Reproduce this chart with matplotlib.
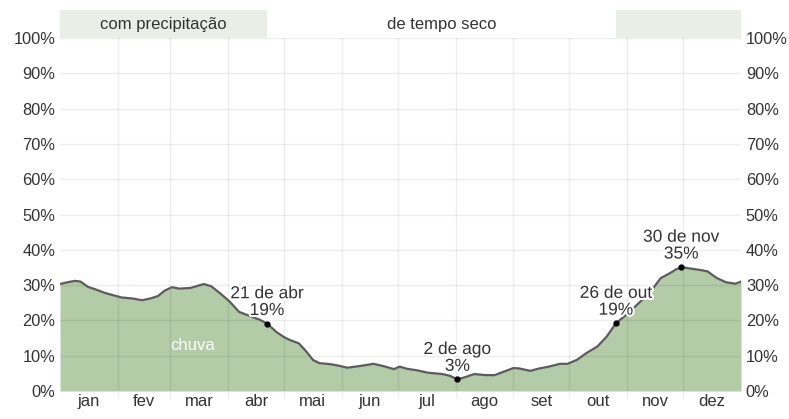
import matplotlib
matplotlib.use("Agg")
import matplotlib.pyplot as plt
import matplotlib.patheffects as pe
import numpy as np

plt.rcParams['font.family'] = ['Liberation Sans', 'DejaVu Sans']

# daily chance of precipitation (day of year, %)
days = [0, 4, 8, 11, 15, 20, 24, 28, 33, 39, 44, 49, 52.5, 56, 60, 64, 70, 77, 81,
        86, 91, 96, 102, 107, 111, 116, 120, 123, 128, 132, 135.6, 139, 145, 150,
        154, 161, 168, 173, 179, 182, 186, 192, 197, 205, 209, 213, 217, 222, 228,
        233, 238, 243, 246, 252, 257, 262, 268, 272, 277, 282, 288, 293, 298, 304,
        312, 318, 322, 327, 330, 333, 339, 343, 347, 352, 357, 362, 365]
chuva = [30.3, 30.8, 31.2, 31.0, 29.5, 28.6, 27.8, 27.2, 26.5, 26.2, 25.7, 26.3, 26.9,
         28.4, 29.4, 29.0, 29.2, 30.3, 29.7, 27.6, 25.3, 22.4, 21.2, 20.2, 19.1, 16.7,
         15.3, 14.5, 13.5, 11.2, 8.8, 7.9, 7.6, 7.1, 6.6, 7.1, 7.7, 7.1, 6.2, 6.9, 6.3,
         5.8, 5.2, 4.8, 4.3, 3.3, 3.9, 4.8, 4.5, 4.5, 5.5, 6.5, 6.4, 5.7, 6.4, 6.9, 7.7,
         7.7, 8.8, 10.7, 12.6, 15.4, 19.2, 21.8, 25.8, 29.2, 32.0, 33.4, 34.4, 35.1,
         34.6, 34.3, 33.9, 32.0, 30.8, 30.4, 31.0]

marks_day = [111, 213, 298, 333]
marks_val = [19.1, 3.3, 19.2, 35.1]
marks_txt = ["21 de abr\n19%", "2 de ago\n3%", "26 de out\n19%", "30 de nov\n35%"]

months = ["jan", "fev", "mar", "abr", "mai", "jun", "jul", "ago", "set", "out", "nov", "dez"]
month_len = [31, 28, 31, 30, 31, 30, 31, 31, 30, 31, 30, 31]

wet_start, wet_end = 111, 298   # dry season between these days

month_edges = np.concatenate([[0], np.cumsum(month_len)])
month_mid = (month_edges[:-1] + month_edges[1:]) / 2

fig = plt.figure(figsize=(7.89, 4.19), dpi=100)
ax = fig.add_axes([60/789, 1 - 391/419, 681/789, 353/419])
axb = fig.add_axes([60/789, 1 - 38/419, 681/789, 28/419], sharex=ax)

grid_c = (0, 0, 0, 0.07)
txt_c = "#333333"
fs = 12

ax.fill_between(days, 0, chuva, color="#b3cba7", lw=0, zorder=1)
ax.plot(days, chuva, color="#5c5c5c", lw=1.6, zorder=3)
ax.plot(marks_day, marks_val, 'o', color="black", ms=3.5, zorder=4)

for d, v, t in zip(marks_day, marks_val, marks_txt):
    ax.annotate(t, (d, v), xytext=(0, 4), textcoords="offset points",
                ha="center", va="bottom", fontsize=12.5, color=txt_c,
                linespacing=1.15, zorder=5,
                path_effects=[pe.withStroke(linewidth=3, foreground="white")])

ax.text(71, 13, "chuva", color="white", fontsize=fs, ha="center", va="center", zorder=5)

ax.set_xlim(0, 365)
ax.set_ylim(0, 100)
yt = np.arange(0, 101, 10)
ax.set_yticks(yt)
ax.set_yticklabels([f"{v}%" for v in yt])
for v in yt[1:]:
    ax.axhline(v, color=grid_c, lw=1, zorder=2)
for e in month_edges[1:-1]:
    ax.axvline(e, color=grid_c, lw=1, zorder=2)

ax.set_xticks(month_mid)
ax.set_xticklabels(months)
ax.set_xticks(month_edges[1:-1], minor=True)
ax.tick_params(axis="x", which="major", length=0, pad=2, labelsize=fs, labelcolor=txt_c)
ax.tick_params(axis="x", which="minor", length=5, color="#ebebeb", width=1)
ax.tick_params(axis="y", length=0, pad=3.5, labelsize=11.8, labelcolor=txt_c,
               labelright=True, labelleft=True)
for s in ax.spines.values():
    s.set_visible(False)

# season band on top
axb.axvspan(0, wet_start, color="#e9efe7", lw=0)
axb.axvspan(wet_end, 365, color="#e9efe7", lw=0)
axb.set_ylim(0, 1)
axb.text(wet_start / 2, 0.5, "com precipitação", ha="center", va="center",
         fontsize=fs, color=txt_c)
axb.text((wet_start + wet_end) / 2, 0.5, "de tempo seco", ha="center", va="center",
         fontsize=fs, color=txt_c)
axb.axis("off")

fig.savefig("out.png", dpi=100)
